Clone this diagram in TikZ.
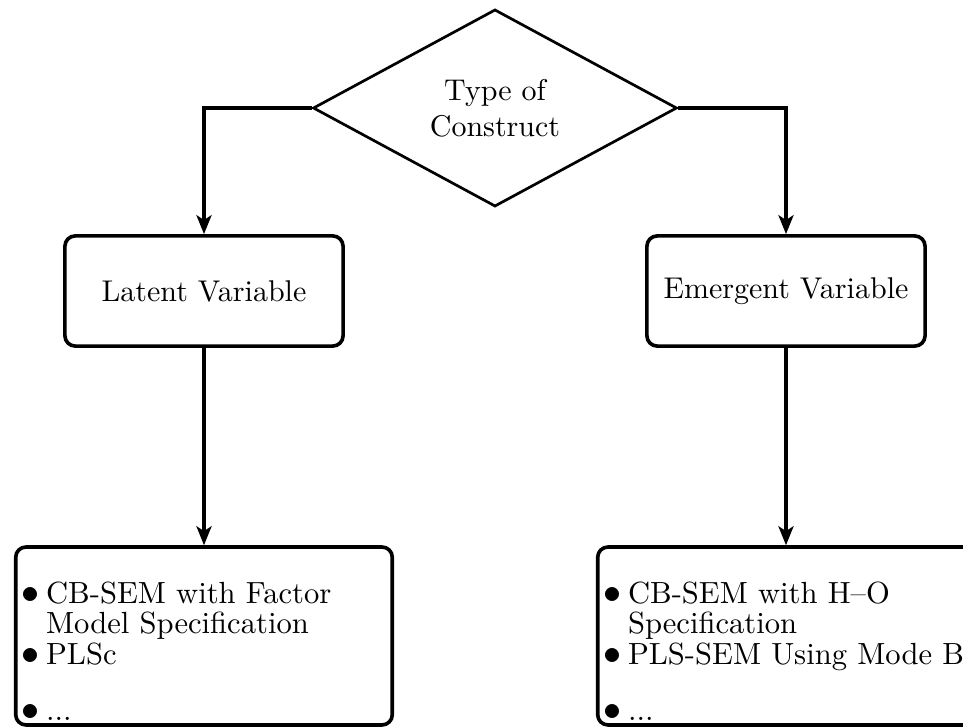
\documentclass[tikz,border=0pt]{standalone}
\usetikzlibrary{shapes.geometric,arrows.meta}
\begin{document}
\begin{tikzpicture}[x=0.3333pt,y=-0.3333pt,
  txt/.style={font=\fontsize{10}{12}\selectfont},
  decision/.style={diamond, aspect=2, draw, line width=0.9pt,
    minimum width=121.3pt, minimum height=65.7pt, inner sep=0pt,
    align=center, txt},
  kind/.style={rectangle, rounded corners=3.4pt, draw, line width=1.2pt,
    minimum width=92.7pt, minimum height=36.7pt, inner sep=0pt, txt},
  methods/.style={rectangle, rounded corners=3.4pt, draw, line width=1.2pt,
    minimum width=125.5pt, minimum height=59.3pt, inner sep=0pt},
  itemlist/.style={anchor=north west, align=left, inner sep=0pt,
    font=\fontsize{10.2}{10.2}\selectfont},
  flow/.style={-{Stealth[length=6.3pt,width=5pt,inset=1.6pt]}, line width=1.2pt},
]
\newcommand\itm{\makebox[8.3pt][l]{\fontsize{12.5}{10}\selectfont$\bullet$}}
\newcommand\cont{\hspace*{8.3pt}}
\useasboundingbox (0,0) rectangle (963,727);

% decision and the two construct kinds
\node[decision] (type) at (495,108) {Type of\\Construct};
\node[kind] (latent) at (204,291) {Latent Variable};
\node[kind] (emergent) at (786,291) {Emergent Variable};

% method boxes
\node[methods] (lvm) at (204,636) {};
\node[methods] (evm) at (786,636) {};

\node[itemlist] (lvtext) at (20.6,581)
  {\itm CB-SEM with Factor\\
   \cont Model Specification\\
   \itm PLSc\\[8.5pt]
   \itm ...};
\node[itemlist] (evtext) at (602.5,581)
  {\itm CB-SEM with H--O\\
   \cont Specification\\
   \itm PLS-SEM Using Mode B\\[8.5pt]
   \itm ...};

% connectors
\draw[flow] (type.west) -| (latent.north);
\draw[flow] (type.east) -| (emergent.north);
\draw[flow] (latent.south) -- (latent.south |- lvm.north);
\draw[flow] (emergent.south) -- (emergent.south |- evm.north);
\end{tikzpicture}
\end{document}
